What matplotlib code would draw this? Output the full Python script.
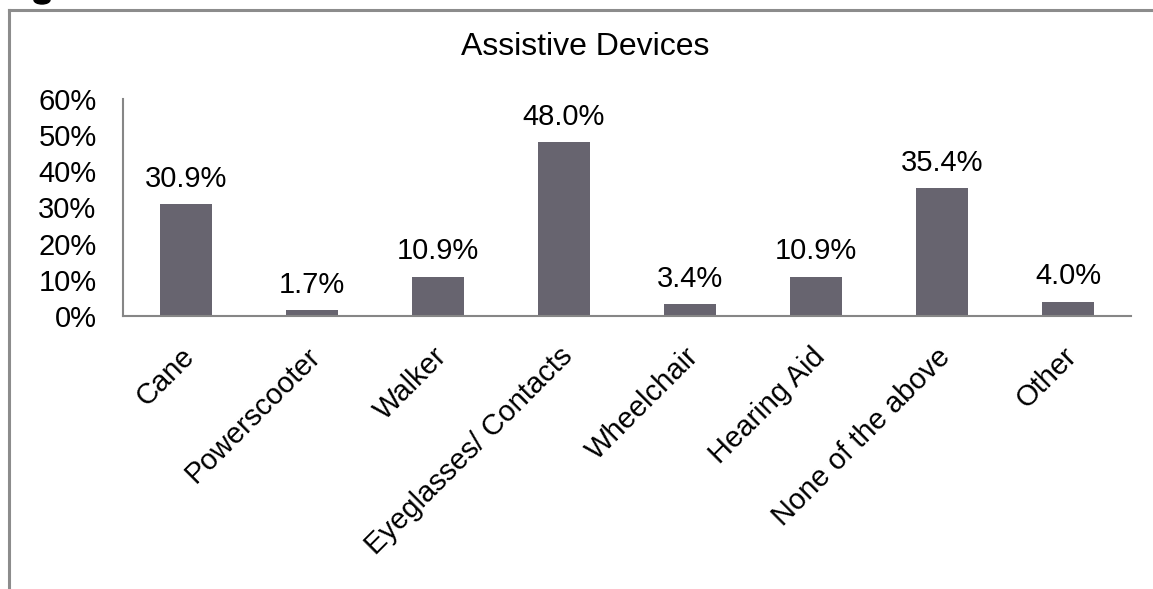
import matplotlib
matplotlib.use('Agg')
import matplotlib.pyplot as plt
from matplotlib.lines import Line2D
from matplotlib.patches import Ellipse
from matplotlib.transforms import ScaledTranslation

# dados
categorias = ['Cane', 'Powerscooter', 'Walker', 'Eyeglasses/ Contacts',
              'Wheelchair', 'Hearing Aid', 'None of the above', 'Other']
valores = [30.9, 1.7, 10.9, 48.0, 3.4, 10.9, 35.4, 4.0]
y_ticks = [0, 10, 20, 30, 40, 50, 60]

plt.rcParams['font.family'] = ['Liberation Sans', 'DejaVu Sans']

fig = plt.figure(figsize=(11.53, 5.89), dpi=100)
ax = fig.add_axes([123/1153, 1-316/589, (1131-123)/1153, (316-99)/589])

x = list(range(len(categorias)))
bars = ax.bar(x, valores, width=0.405, color='#67646f')

for b, v in zip(bars, valores):
    ax.annotate('%.1f%%' % v, (b.get_x() + b.get_width()/2, v),
                xytext=(0, 8), textcoords='offset points',
                ha='center', va='bottom', fontsize=21)

ax.set_xlim(-0.5, len(categorias) - 0.5)
ax.set_ylim(0, 60)
ax.set_yticks(y_ticks)
ax.set_yticklabels(['%d%%' % t for t in y_ticks], fontsize=21)
ax.set_xticks(x)
ax.set_xticklabels(categorias, fontsize=21, rotation=45, ha='right',
                   va='top', rotation_mode='anchor')
ax.tick_params(axis='both', length=0)
ax.tick_params(axis='y', pad=19)
ax.tick_params(axis='x', pad=19)
# desloca os rotulos um pouco pra esquerda, como no original
off = ScaledTranslation(-4/72, 0, fig.dpi_scale_trans)
for lbl in ax.get_xticklabels():
    lbl.set_transform(lbl.get_transform() + off)

for s in ['top', 'right']:
    ax.spines[s].set_visible(False)
for s in ['left', 'bottom']:
    ax.spines[s].set_color('#868686')
    ax.spines[s].set_linewidth(1.5)

fig.text(585/1153, 1-47/589, 'Assistive Devices', ha='center', va='center',
         fontsize=23)

# moldura cinza do quadro (so topo e esquerda aparecem)
fig.add_artist(Line2D([9/1153, 1], [1-10/589, 1-10/589], color='#8c8c8c',
                      lw=2.2, transform=fig.transFigure))
fig.add_artist(Line2D([9/1153, 9/1153], [0, 1-10/589], color='#8c8c8c',
                      lw=2.2, transform=fig.transFigure))
# pedaco do titulo de cima que ficou cortado
fig.add_artist(Ellipse((42/1153, 1), 16/1153, 8/589, color='black',
                       transform=fig.transFigure))

fig.savefig('out.png', dpi=100)
